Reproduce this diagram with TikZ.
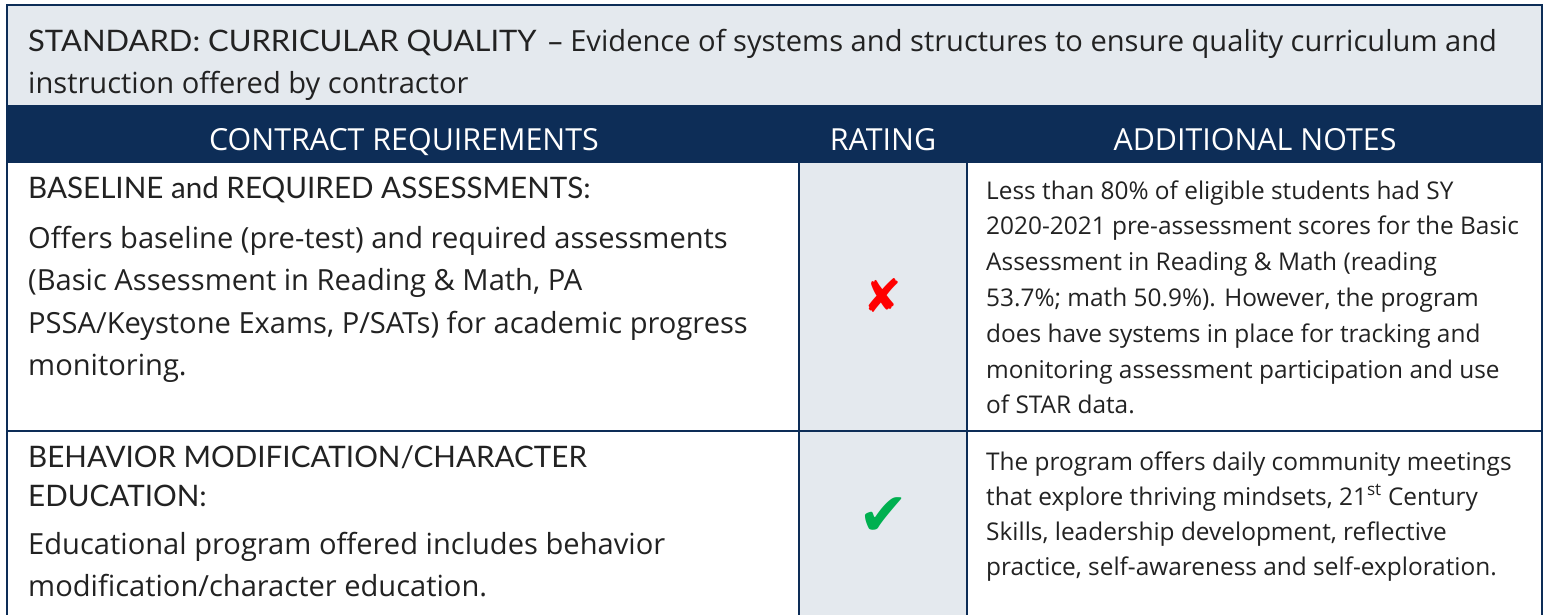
\documentclass[tikz,border=0pt]{standalone}
\usepackage{fontspec}
\setmainfont{Open Sans}
\newfontfamily\gill{Lato}
\newfontfamily\gillwide[FakeStretch=1.045]{Lato}
\newfontfamily\symfont{DejaVu Sans}
\definecolor{navy}{HTML}{0D2D57}
\definecolor{paleg}{HTML}{E4E9EE}
\definecolor{ink}{HTML}{222222}
\definecolor{okgreen}{HTML}{00B050}
\tikzset{
  bodytext/.style={anchor=base west, inner sep=0pt, text=ink, font=\fontsize{29.1}{29.1}\selectfont},
  notetext/.style={anchor=base west, inner sep=0pt, text=ink, font=\fontsize{24.4}{24.4}\selectfont},
  headtext/.style={anchor=base west, inner sep=0pt, text=ink, font=\gill\fontsize{29.6}{29.6}\selectfont},
  bandtext/.style={anchor=base, inner sep=0pt, text=white, font=\fontsize{30.4}{30.4}\selectfont},
  gridline/.style={draw=navy, line width=2pt},
  marksym/.style={inner sep=0pt, font=\symfont}
}
\begin{document}
\begin{tikzpicture}[x=1pt,y=-1pt]
\useasboundingbox (0,0) rectangle (1546,614);
\fill[white] (0,0) rectangle (1546,614);
% fills
\fill[paleg] (7,5) rectangle (1542,105);
\fill[navy] (7,105) rectangle (1542,163);
\fill[paleg] (799,163) rectangle (967,620);
% grid
\draw[gridline] (7,5) rectangle (1542,620);
\draw[gridline] (7,431) -- (1542,431);
\draw[gridline] (799,163) -- (799,620);
\draw[gridline] (967,163) -- (967,620);
% header
\node[headtext, font=\gillwide\fontsize{29.6}{29.6}\selectfont] (t0) at (28,51) {STANDARD: CURRICULAR QUALITY};
\node[bodytext] (t1) at (548,51) {– Evidence of systems and structures to ensure quality curriculum and};
\node[bodytext] (t2) at (28,93) {instruction offered by contractor};
% band
\node[bandtext] (c1) at (404,150) {CONTRACT REQUIREMENTS};
\node[bandtext] (c2) at (883,150) {RATING};
\node[bandtext] (c3) at (1255,150) {ADDITIONAL NOTES};
% row 1
\node[headtext] (h1) at (28,198) {BASELINE and REQUIRED ASSESSMENTS:};
\node[bodytext] (b1) at (28,248) {Offers baseline (pre-test) and required assessments};
\node[bodytext] (b2) at (28,290.5) {(Basic Assessment in Reading \& Math, PA};
\node[bodytext] (b3) at (28,333) {PSSA/Keystone Exams, P/SATs) for academic progress};
\node[bodytext] (b4) at (28,375.5) {monitoring.};
\node[notetext] (n1) at (986,199) {Less than 80\% of eligible students had SY};
\node[notetext] (n2) at (986,234.8) {2020-2021 pre-assessment scores for the Basic};
\node[notetext] (n3) at (986,270.6) {Assessment in Reading \& Math (reading};
\node[notetext] (n4) at (986,306.4) {53.7\%; math 50.9\%). However, the program};
\node[notetext] (n5) at (986,342.2) {does have systems in place for tracking and};
\node[notetext] (n6) at (986,378) {monitoring assessment participation and use};
\node[notetext] (n7) at (986,413.8) {of STAR data.};
\node[marksym, text=red, font=\symfont\fontsize{46}{46}\selectfont] (x1) at (883,295) {✘};
% row 2
\node[headtext] (h2) at (28,467) {BEHAVIOR MODIFICATION/CHARACTER};
\node[headtext] (h3) at (28,506) {EDUCATION:};
\node[bodytext] (b5) at (28,554) {Educational program offered includes behavior};
\node[bodytext] (b6) at (28,596) {modification/character education.};
\node[notetext] (m1) at (986,470) {The program offers daily community meetings};
\node[notetext] (m2) at (986,505) {that explore thriving mindsets, 21\textsuperscript{st} Century};
\node[notetext] (m3) at (986,540) {Skills, leadership development, reflective};
\node[notetext] (m4) at (986,575) {practice, self-awareness and self-exploration.};
\node[marksym, text=okgreen, font=\symfont\fontsize{60}{60}\selectfont] (v1) at (884,517) {✔};
\end{tikzpicture}
\end{document}
